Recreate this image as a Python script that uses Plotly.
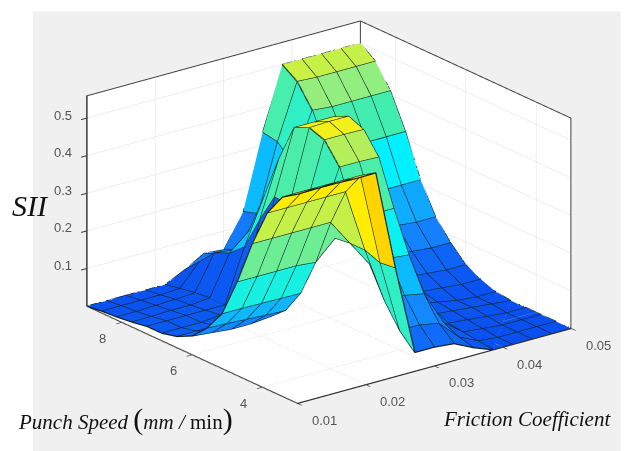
import plotly.graph_objects as go

friction = [0.01 + 0.04 * n / 14 for n in range(15)]
speed = [3 + 6 * n / 14 for n in range(15)]

row00 = [.556, .557, .557, .555, .556, .29, .05, .05, .045, .02, 0, 0, 0, 0, 0]
row01 = [.53, .53, .53, .53, .53, .285, .09, .09, .08, .03, .005, 0, 0, 0, 0]
row02 = [.47, .47, .47, .47, .47, .30, .15, .15, .14, .05, .01, .005, 0, 0, 0]
row03 = [.37, .37, .37, .37, .37, .30, .23, .23, .225, .08, .015, .01, .005, 0, 0]
row04 = [.25, .25, .25, .25, .245, .295, .33, .33, .33, .12, .02, .015, .01, .005, 0]
row05 = [.147, .147, .146, .145, .144, .31, .45, .45, .448, .17, .03, .02, .01, .005, .005]
row06 = [.09, .088, .085, .082, .08, .33, .504, .504, .503, .22, .045, .03, .025, .02, .02]
row07 = [.05, .045, .04, .04, .045, .33, .518, .52, .52, .25, .06, .05, .045, .04, .04]
row08 = [.03, .03, .03, .03, .035, .33, .50, .50, .50, .27, .10, .09, .085, .08, .08]
row09 = [.02, .02, .02, .025, .03, .25, .40, .40, .39, .27, .15, .14, .135, .13, .13]
row10 = [.02, .02, .02, .02, .02, .16, .28, .29, .29, .26, .22, .215, .21, .21, .21]
row11 = [.013, .013, .015, .015, .02, .125, .17, .18, .22, .26, .32, .32, .32, .32, .32]
row12 = [.008, .008, .01, .012, .015, .107, .10, .11, .17, .29, .415, .41, .41, .41, .41]
row13 = [.005, .005, .005, .005, .008, .065, .07, .07, .15, .328, .473, .47, .47, .47, .47]
row14 = [0, 0, 0, 0, 0, .025, .055, .05, .137, .335, .5, .5, .5, .5, .5]
sii = [row00, row01, row02, row03, row04, row05, row06, row07, row08, row09, row10, row11, row12, row13, row14]

x_ticks = [0.01, 0.02, 0.03, 0.04, 0.05]
y_ticks = [4, 6, 8]
z_ticks = [0.1, 0.2, 0.3, 0.4, 0.5]
x_range = [0.01, 0.05]
y_range = [3, 9]
z_range = [0, 0.56]

n = 15
vx, vy, vz = [], [], []
for j in range(n):
    for i in range(n):
        vx.append(friction[i]); vy.append(speed[j]); vz.append(sii[j][i])
ti, tj, tk, cell = [], [], [], []
for j in range(n - 1):
    for i in range(n - 1):
        a = j * n + i
        b = a + 1
        c = a + n
        d = c + 1
        m = sii[j][i]
        ti += [a, a]; tj += [b, d]; tk += [d, c]; cell += [m, m]

colors = [[0, "#0a50f0"], [0.05, "#0d5cf5"], [0.145, "#1480ff"], [0.236, "#10a8ff"], [0.38, "#00f0ff"],
          [0.48, "#20f0d8"], [0.58, "#40eeb0"], [0.745, "#90ee80"], [0.855, "#c4f048"], [0.91, "#eef020"],
          [0.96, "#fff000"], [1, "#ffd400"]]

fig = go.Figure()
fig.add_trace(go.Mesh3d(x=vx, y=vy, z=vz, i=ti, j=tj, k=tk, intensity=cell, intensitymode="cell",
                        colorscale=colors, cmin=0, cmax=0.55, showscale=False, flatshading=True,
                        lighting=dict(ambient=1, diffuse=0, specular=0, roughness=1, fresnel=0),
                        hoverinfo="skip"))
lx, ly, lz = [], [], []
for j in range(n):
    lx += friction + [None]; ly += [speed[j]] * n + [None]; lz += sii[j] + [None]
for i in range(n):
    lx += [friction[i]] * n + [None]; ly += speed + [None]; lz += [sii[j][i] for j in range(n)] + [None]
fig.add_trace(go.Scatter3d(x=lx, y=ly, z=lz, mode="lines", line=dict(color="#10201c", width=2.4),
                           hoverinfo="skip", showlegend=False))
xa, xb = x_range[0] + 0.00004, x_range[1] - 0.00004
ya, yb = y_range[0] + 0.006, y_range[1] - 0.006
zb = z_range[1] - 0.0006
bx = [xa, xa, xb, xb, None, xb, xb, None, xb, xb]
by = [yb, yb, yb, ya, None, ya, ya, None, yb, yb]
bz = [z_range[0], zb, zb, zb, None, z_range[0], zb, None, z_range[0], zb]
fig.add_trace(go.Scatter3d(x=bx, y=by, z=bz, mode="lines", line=dict(color="#404040", width=2),
                           hoverinfo="skip", showlegend=False))

axis = dict(showbackground=True, backgroundcolor="white", gridcolor="#dcdcdc", gridwidth=1, zeroline=False,
            showline=True, linecolor="#303030", linewidth=2.5, ticks="outside", ticklen=7, tickcolor="#303030",
            tickwidth=2, showticklabels=False, title=dict(text=""), showspikes=False)
tick_font = dict(family="Liberation Sans", size=13, color="#555555")
labels = []
for v in x_ticks:
    labels.append(dict(x=v, y=y_range[0], z=0, text=f"{v:.2f}", showarrow=False, xshift=27, yshift=-17, font=tick_font))
for v in y_ticks:
    labels.append(dict(x=x_range[0], y=v, z=0, text=str(v), showarrow=False, xshift=-19, yshift=-16, font=tick_font))
for v in z_ticks:
    labels.append(dict(x=x_range[0], y=y_range[1], z=v, text=f"{v:.1f}", showarrow=False, xshift=-24, yshift=3, font=tick_font))

fig.update_layout(
    width=630, height=451, margin=dict(l=0, r=0, t=0, b=0), paper_bgcolor="white", showlegend=False,
    shapes=[dict(type="rect", xref="paper", yref="paper", x0=0.052, x1=0.985, y0=0, y1=0.975,
                 fillcolor="#f0f0f0", line_width=0, layer="below")],
    scene=dict(
        domain=dict(x=[0.0444, 1], y=[0.06, 1]),
        bgcolor="rgba(0,0,0,0)",
        xaxis=dict(axis, range=x_range, tickvals=x_ticks),
        yaxis=dict(axis, range=y_range, tickvals=y_ticks),
        zaxis=dict(axis, range=z_range, tickvals=z_ticks),
        aspectmode="manual", aspectratio=dict(x=1.63, y=1.63, z=1.063),
        annotations=labels,
        camera=dict(projection=dict(type="orthographic"), up=dict(x=0, y=0, z=1),
                    center=dict(x=0, y=0, z=0), eye=dict(x=-1.14, y=-1.48, z=0.71)),
    ),
    annotations=[
        dict(text="<i>SII</i>", xref="paper", yref="paper", x=30 / 630, y=1 - 205 / 451, showarrow=False,
             font=dict(family="Liberation Serif", size=30, color="#111111"), xanchor="center", yanchor="middle"),
        dict(text="<i>Punch Speed</i> <span style='font-size:30px'>(</span><i>mm / </i>min<span style='font-size:30px'>)</span>",
             xref="paper", yref="paper", x=125 / 630, y=1 - 419 / 451, showarrow=False, xanchor="center", yanchor="middle",
             font=dict(family="Liberation Serif", size=21, color="#111111")),
        dict(text="<i>Friction Coefficient</i>", xref="paper", yref="paper", x=527 / 630, y=1 - 419 / 451,
             showarrow=False, xanchor="center", yanchor="middle", font=dict(family="Liberation Serif", size=21, color="#111111")),
    ],
)
fig.write_html("out.html", post_script="document.body.style.margin='0';", config=dict(displayModeBar=False))
